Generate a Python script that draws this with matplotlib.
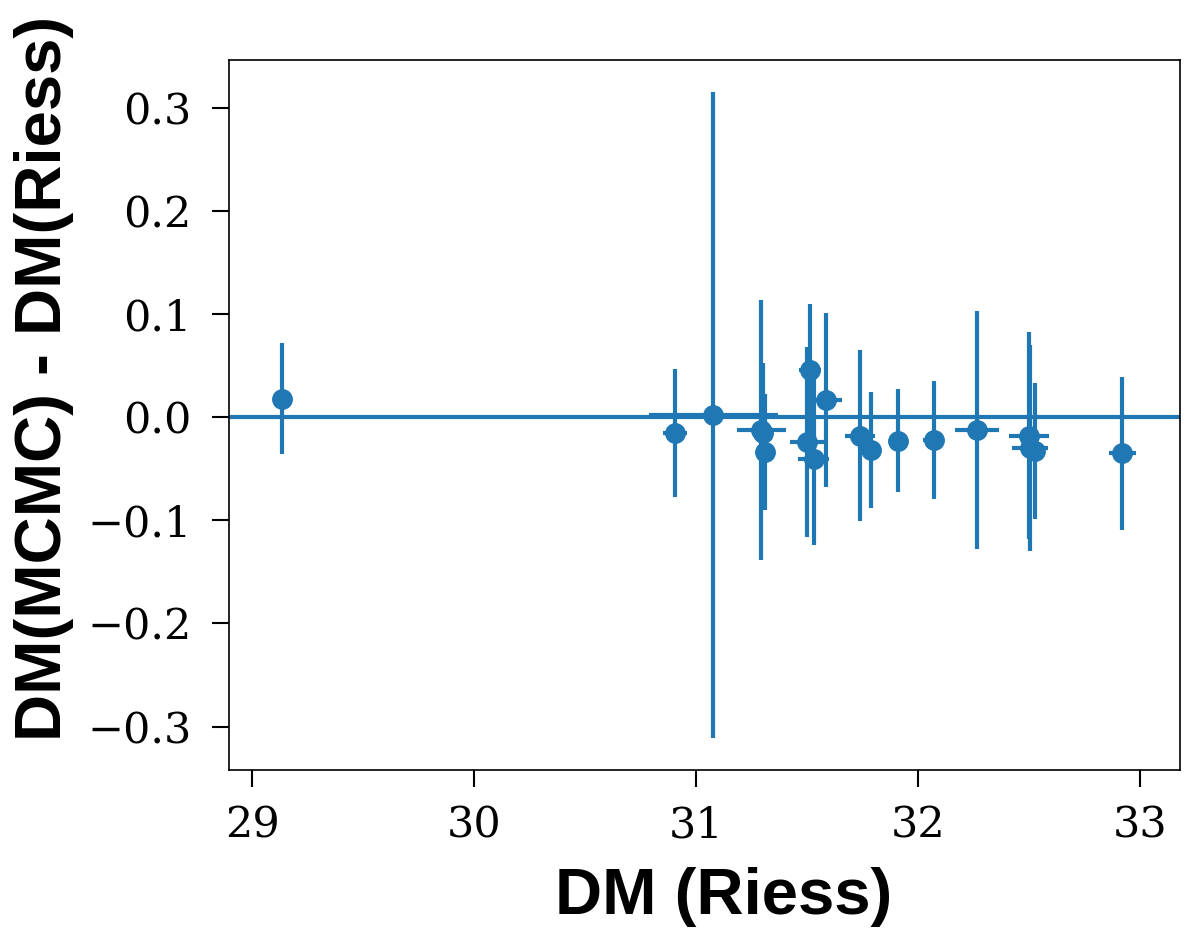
import matplotlib
matplotlib.use("Agg")
import matplotlib.pyplot as plt

# DM from Riess vs. (MCMC - Riess) residual
dm_riess = [29.135, 30.905, 31.077, 31.293, 31.300, 31.310, 31.500, 31.514, 31.530,
            31.585, 31.740, 31.790, 31.910, 32.070, 32.265, 32.500, 32.505, 32.525, 32.920]
dm_diff = [0.018, -0.0155, 0.002, -0.0126, -0.015, -0.034, -0.024, 0.0456, -0.041,
           0.0165, -0.018, -0.032, -0.023, -0.022, -0.0126, -0.018, -0.030, -0.033, -0.035]
diff_err = [0.054, 0.062, 0.313, 0.126, 0.067, 0.056, 0.092, 0.064, 0.083,
            0.084, 0.083, 0.056, 0.050, 0.057, 0.115, 0.100, 0.100, 0.066, 0.074]
riess_err = [0.02, 0.054, 0.29, 0.11, 0.02, 0.02, 0.077, 0.05, 0.07,
             0.072, 0.068, 0.04, 0.02, 0.047, 0.10, 0.09, 0.08, 0.03, 0.06]

fig = plt.figure(figsize=(11.9, 9.44), dpi=100)
ax = fig.add_axes([0.1924, 0.1843, 0.7992, 0.7521])

ax.errorbar(dm_riess, dm_diff, yerr=diff_err, xerr=riess_err, fmt='o',
            color='C0', markersize=14, elinewidth=3, capsize=0)
ax.axhline(0, color='C0', linewidth=3)

ax.set_xlim(28.896, 33.18)
ax.set_ylim(-0.342, 0.346)
ax.set_xticks([29, 30, 31, 32, 33])
ax.set_yticks([-0.3, -0.2, -0.1, 0.0, 0.1, 0.2, 0.3])

for lab in ax.get_xticklabels() + ax.get_yticklabels():
    lab.set_family('DejaVu Serif')
    lab.set_fontsize(31)
ax.tick_params(length=12, width=1.5)
ax.tick_params(axis='x', pad=13)
ax.tick_params(axis='y', pad=15)
for s in ax.spines.values():
    s.set_linewidth(1.2)

ax.set_xlabel("DM (Riess)", fontsize=47, fontweight='bold',
              family='Liberation Sans')
ax.set_ylabel("DM(MCMC) - DM(Riess)", fontsize=47, fontweight='bold',
              family='Liberation Sans')
ax.xaxis.set_label_coords(0.5205, -0.137)
ax.yaxis.set_label_coords(-0.163, 0.552)

fig.savefig("out.png", dpi=100)
